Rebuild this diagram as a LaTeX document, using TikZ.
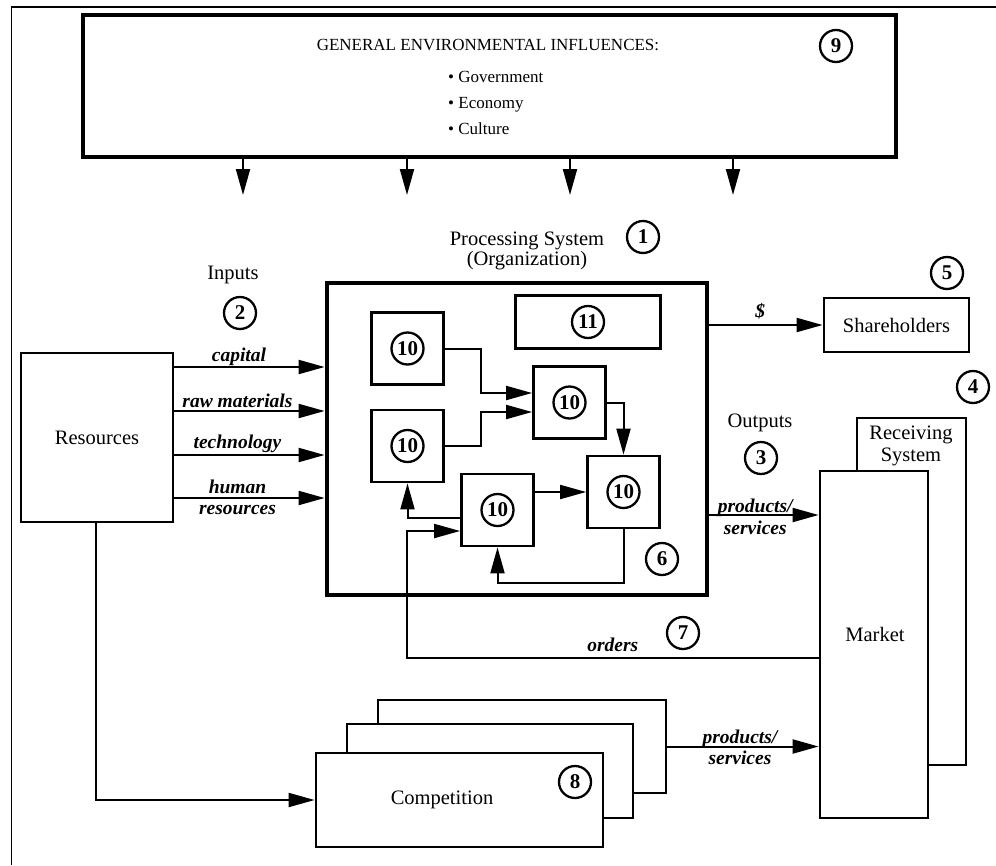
\documentclass[tikz,border=0pt]{standalone}
\usepackage{fontspec}
\setmainfont{Liberation Serif}
\usetikzlibrary{arrows.meta,calc}

\begin{document}
\begin{tikzpicture}[x=1pt,y=-1pt,
  box/.style={draw, line width=2.8pt, inner sep=0pt, fill=white, font=\fontsize{20.5}{22}\selectfont},
  arr/.style={line width=2pt, -{Triangle[length=26pt,width=14pt]}},
  num/.style={circle, draw, line width=2.3pt, minimum size=32pt, inner sep=0pt, font=\bfseries\fontsize{21}{21}\selectfont},
  lab/.style={font=\bfseries\itshape\fontsize{19.5}{21}\selectfont, inner sep=0pt, anchor=base},
  txt/.style={font=\fontsize{20.5}{22}\selectfont, inner sep=0pt},
  small/.style={font=\fontsize{17}{20}\selectfont, inner sep=0pt},
]
\useasboundingbox (0,0) rectangle (996,865);

% frame lines
\draw[line width=1.3pt] (11.5,865) -- (11.5,7) -- (996,7);

% general environment
\node[box, line width=3.4pt, minimum width=813pt, minimum height=142pt] (env) at (489.5,86) {};
\node[small] (envtitle) at (488,45) {GENERAL ENVIRONMENTAL INFLUENCES:};
\node[small, anchor=base west] (gov) at (448,82) {\textbullet\ Government};
\node[small, anchor=base west] (eco) at (448,108) {\textbullet\ Economy};
\node[small, anchor=base west] (cul) at (448,134) {\textbullet\ Culture};
\node[num] (n9) at (836,46) {9};

\coordinate (e1) at (243,195);
\coordinate (e2) at (407,195);
\coordinate (e3) at (570,195);
\coordinate (e4) at (733,195);
\foreach \e in {e1,e2,e3,e4}
  \draw[arr] (\e |- env.south) -- (\e);

% processing system
\node[txt, anchor=base] (ps1) at (527,245) {Processing System};
\node[txt, anchor=base] (ps2) at (527,265) {(Organization)};
\node[num] (n1) at (643,237) {1};
\node[box, line width=4.8pt, minimum width=380pt, minimum height=312pt] (proc) at (517,439) {};

\node[box, minimum width=145pt, minimum height=53pt] (b11) at (588,322) {};
\node[num] (n11) at (b11) {11};
\node[box, minimum size=72pt] (b10a) at (407.5,348.5) {};
\node[box, minimum size=72pt] (b10b) at (407.5,446) {};
\node[box, minimum size=72pt] (b10c) at (569.5,402.5) {};
\node[box, minimum size=72pt] (b10d) at (623.5,492) {};
\node[box, minimum size=72pt] (b10e) at (497.5,510) {};
\foreach \b in {b10a,b10b,b10c,b10d,b10e}
  \node[num] at (\b) {10};
\node[num] (n6) at (662,559) {6};

\draw[arr] (b10a.east) -- ++(36,0) |- ([yshift=9.5pt]b10c.west);
\draw[arr] (b10b.east) -- ++(36,0) |- ([yshift=-9.5pt]b10c.west);
\draw[arr] (b10c.east) -| (b10d.north);
\draw[arr] (b10d.west -| b10e.east) -- (b10d.west);
\draw[arr] ([yshift=-8pt]b10e.west) -| (b10b.south);
\draw[arr] (b10d.south) -- ++(0,54) -| (b10e.south);

% inputs
\node[txt] (inputs) at (233,275) {Inputs};
\node[num] (n2) at (240,313) {2};
\node[box, minimum width=152pt, minimum height=169pt] (res) at (97,437.5) {Resources};

\coordinate (i1) at ([yshift=70.5pt]res.east);
\coordinate (i2) at ([yshift=26.5pt]res.east);
\coordinate (i3) at ([yshift=-17.5pt]res.east);
\coordinate (i4) at ([yshift=-60.5pt]res.east);
\draw[arr] (i1) -- (i1 -| proc.west) node[lab, pos=0.43, yshift=6pt] {capital};
\draw[arr] (i2) -- (i2 -| proc.west) node[lab, pos=0.42, yshift=4pt] {raw materials};
\draw[arr] (i3) -- (i3 -| proc.west) node[lab, pos=0.42, yshift=7pt] {technology};
\draw[arr] (i4) -- (i4 -| proc.west)
  node[lab, pos=0.42, yshift=5pt] {human}
  node[lab, pos=0.42, yshift=-16pt] {resources};

% outputs
\node[num] (n5) at (947,273) {5};
\node[box, minimum width=145pt, minimum height=54pt] (share) at (896.5,325) {Shareholders};
\draw[arr] (proc.east |- share.west) -- (share.west)
  node[lab, pos=0.45, yshift=8pt] {\$};

\node[num] (n4) at (973,387) {4};
\node[txt] (outputs) at (760,423) {Outputs};
\node[num] (n3) at (761,458) {3};

\node[box, minimum width=109pt, minimum height=347pt] (recv) at (911.5,591.5) {};
\node[txt, align=center] (recvtxt) at (911,446) {Receiving\\System};
\node[box, minimum width=108pt, minimum height=347pt] (market) at (874,644.5) {};
\node[txt] (markettxt) at (875,634) {Market};

\coordinate (po) at ([yshift=-76pt]proc.east);
\draw[arr] (po) -- (po -| market.west)
  node[lab, pos=0.42, yshift=3pt] {products/}
  node[lab, pos=0.42, yshift=-19pt] {services};

% orders feedback
\coordinate (ordc) at (407,658);
\draw[arr] (ordc -| market.west) -- node[lab, pos=0.5, yshift=7pt] {orders} (ordc)
  |- ([yshift=-21pt]b10e.west);
\node[num] (n7) at (683,633) {7};

% competition
\node[box, minimum width=288pt, minimum height=93pt] (comp3) at (522,746.5) {};
\node[box, minimum width=286pt, minimum height=94pt] (comp2) at (490,771) {};
\node[box, minimum width=287pt, minimum height=94pt] (comp1) at (459.5,800) {};
\node[txt] (comptxt) at (442,800) {Competition};
\node[num] (n8) at (575,782) {8};

\draw[arr] ([xshift=-1pt]res.south) |- (comp1.west);
\draw[arr] (comp3.east) -- (comp3.east -| market.west)
  node[lab, pos=0.48, yshift=3pt] {products/}
  node[lab, pos=0.48, yshift=-18pt] {services};
\end{tikzpicture}
\end{document}
